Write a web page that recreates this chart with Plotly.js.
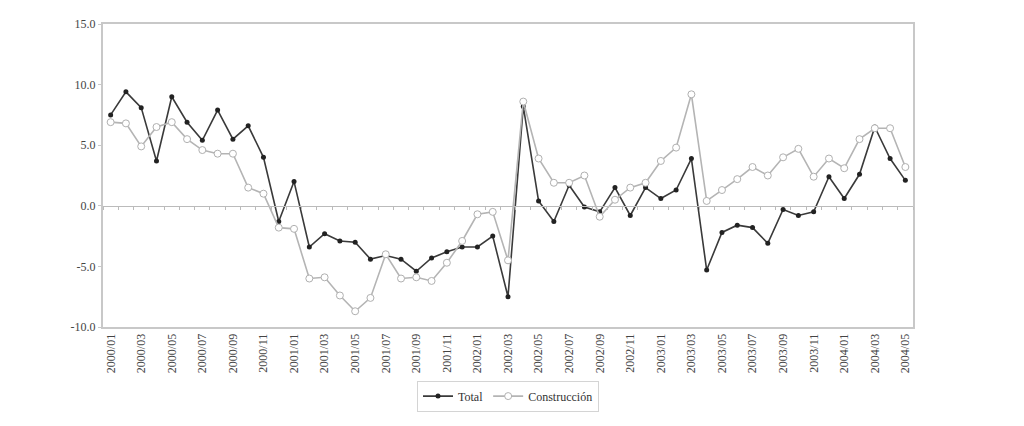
<!DOCTYPE html>
<html>
<head>
<meta charset="utf-8">
<script src="https://cdn.plot.ly/plotly-3.0.1.min.js"></script>
<style>html,body{margin:0;padding:0;background:#fff;}#chart{width:1024px;height:426px;}</style>
</head>
<body>
<div id="chart"></div>
<script>
var months = [];
for (var yr = 2000; yr <= 2004; yr++) {
  for (var m = 1; m <= 12; m++) {
    if (yr === 2004 && m > 5) break;
    months.push(yr + '/' + (m < 10 ? '0' + m : '' + m));
  }
}
var categories = months;

var total = [7.5, 9.4, 8.1, 3.7, 9.0, 6.9, 5.4, 7.9, 5.5, 6.6, 4.0, -1.3, 2.0, -3.4, -2.3, -2.9, -3.0, -4.4, -4.1, -4.4, -5.4, -4.3, -3.8, -3.4, -3.4, -2.5, -7.5, 8.2, 0.4, -1.3, 1.7, -0.1, -0.5, 1.5, -0.8, 1.5, 0.6, 1.3, 3.9, -5.3, -2.2, -1.6, -1.8, -3.1, -0.3, -0.8, -0.5, 2.4, 0.6, 2.6, 6.5, 3.9, 2.1];

var construccion = [6.9, 6.8, 4.9, 6.5, 6.9, 5.5, 4.6, 4.3, 4.3, 1.5, 1.0, -1.8, -1.9, -6.0, -5.9, -7.4, -8.7, -7.6, -4.0, -6.0, -5.9, -6.2, -4.7, -2.9, -0.7, -0.5, -4.5, 8.6, 3.9, 1.9, 1.9, 2.5, -0.9, 0.5, 1.5, 1.9, 3.7, 4.8, 9.2, 0.4, 1.3, 2.2, 3.2, 2.5, 4.0, 4.7, 2.4, 3.9, 3.1, 5.5, 6.4, 6.4, 3.2];

var xTickLabels = categories.filter(function (c, i) { return i % 2 === 0; });
var yTickVals = [-10, -5, 0, 5, 10, 15];
var yTickText = ['-10.0', '-5.0', '0.0', '5.0', '10.0', '15.0'];

var fontFam = 'Liberation Serif, Times New Roman, serif';
var textCol = '#555555';
var frameCol = '#c8c8c8';

var traces = [
  {
    x: categories, y: total, name: 'Total', type: 'scatter', mode: 'lines+markers',
    line: {color: '#3a3a3a', width: 1.6},
    marker: {color: '#222222', size: 5, symbol: 'circle'},
    xaxis: 'x', yaxis: 'y'
  },
  {
    x: categories, y: construccion, name: 'Construcción', type: 'scatter', mode: 'lines+markers',
    line: {color: '#b4b4b4', width: 1.6},
    marker: {color: '#ffffff', size: 7, symbol: 'circle', line: {color: '#b0b0b0', width: 1}},
    xaxis: 'x', yaxis: 'y'
  },
  {
    x: categories, y: total, type: 'scatter', mode: 'none', showlegend: false,
    hoverinfo: 'skip', xaxis: 'x2', yaxis: 'y'
  }
];

var layout = {
  width: 1024, height: 426,
  margin: {l: 103, r: 111, t: 24, b: 99},
  paper_bgcolor: '#ffffff', plot_bgcolor: '#ffffff',
  font: {family: fontFam, size: 12, color: textCol},
  showlegend: true,
  legend: {
    orientation: 'h', x: 0.5, xanchor: 'center', y: -0.228, yanchor: 'middle',
    bordercolor: '#d4d4d4', borderwidth: 1, bgcolor: '#ffffff',
    font: {family: fontFam, size: 12, color: '#333333'},
    traceorder: 'normal', itemwidth: 30, tracegroupgap: 0
  },
  xaxis: {
    type: 'category', categoryorder: 'array', categoryarray: categories,
    range: [-0.5, categories.length - 0.5],
    tickmode: 'array', tickvals: xTickLabels, ticktext: xTickLabels,
    tickangle: -90, tickfont: {family: fontFam, size: 12, color: '#444444'},
    ticks: '', showgrid: false, zeroline: false,
    showline: true, linecolor: frameCol, linewidth: 2, mirror: true
  },
  xaxis2: {
    type: 'category', categoryorder: 'array', categoryarray: categories,
    matches: 'x', overlaying: 'x', anchor: 'free', position: 0.4,
    showticklabels: false, ticks: 'outside', ticklen: 3, tickcolor: '#bbbbbb',
    tickson: 'boundaries', dtick: 1, showgrid: false, zeroline: false,
    showline: true, linecolor: '#bbbbbb', linewidth: 1
  },
  yaxis: {
    range: [-10, 15], tickmode: 'array', tickvals: yTickVals, ticktext: yTickText,
    tickfont: {family: fontFam, size: 12, color: '#444444'},
    ticks: 'outside', ticklen: 3, tickcolor: frameCol,
    showgrid: false, zeroline: false,
    showline: true, linecolor: frameCol, linewidth: 2, mirror: true
  }
};

Plotly.newPlot('chart', traces, layout, {displayModeBar: false, staticPlot: true});
</script>
</body>
</html>
